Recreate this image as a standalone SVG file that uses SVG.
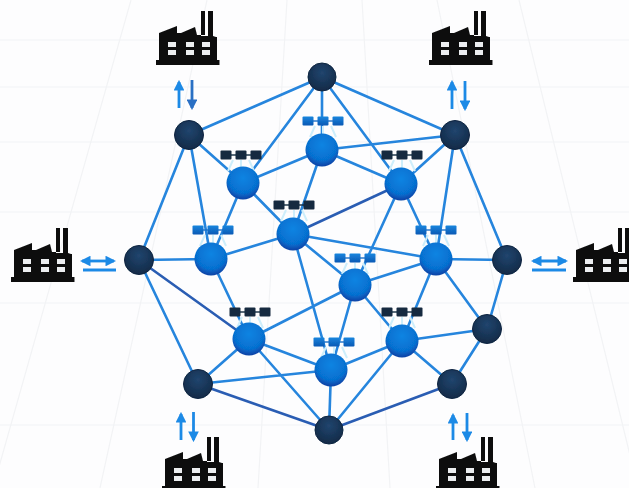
<svg xmlns="http://www.w3.org/2000/svg" xmlns:xlink="http://www.w3.org/1999/xlink" width="629" height="488" viewBox="0 0 629 488">
<style>
.grid{stroke:#f2f3f5;stroke-width:1.2;fill:none}
.e{stroke:#2585dd;stroke-width:2.6;fill:none;stroke-linecap:round}
.d{stroke:#2a5db3;stroke-width:2.6;fill:none;stroke-linecap:round}
.a{stroke:#1f8ae6;stroke-width:2.8;fill:none}
.a2{stroke:#2c6fc4;stroke-width:2.8;fill:none}
.dark{fill:url(#gd);stroke:#0f2440;stroke-width:1}
.blue{fill:url(#gb)}
.f{fill:#0e0f10}
.w{fill:#eceef0}
.p{stroke:#cdeefb;stroke-width:2;fill:none}
.cb{fill:url(#cb)}
.cd{fill:#14293f}
.lb{stroke:#1d72c8;stroke-width:1.4}
.ld{stroke:#14293f;stroke-width:1.4}
</style>
<defs>
<filter id="soft" x="-5%" y="-5%" width="110%" height="110%"><feGaussianBlur stdDeviation="0.6"/></filter>
<radialGradient id="gb" cx="50%" cy="35%" r="65%"><stop offset="0" stop-color="#0a84e2"/><stop offset="0.7" stop-color="#0670d0"/><stop offset="1" stop-color="#0a40a4"/></radialGradient>
<radialGradient id="gd" cx="50%" cy="35%" r="65%"><stop offset="0" stop-color="#21456e"/><stop offset="1" stop-color="#122a47"/></radialGradient>
<linearGradient id="cb" x1="0" y1="0" x2="0" y2="1"><stop offset="0" stop-color="#1a86de"/><stop offset="1" stop-color="#0a58b4"/></linearGradient>
<marker id="ah" viewBox="0 0 10 10" refX="8" refY="5" markerWidth="3.800" markerHeight="3.800" orient="auto-start-reverse"><path d="M0 0L10 5L0 10Z" fill="#1f8ae6"/></marker>
<marker id="ah2" viewBox="0 0 10 10" refX="8" refY="5" markerWidth="3.800" markerHeight="3.800" orient="auto-start-reverse"><path d="M0 0L10 5L0 10Z" fill="#2c6fc4"/></marker>
<symbol id="factory" width="64" height="56" viewBox="0 0 64 56" overflow="visible">
<path class="f" d="M45 1h4v24h-4zM52 1h5v25h-5zM3 23L21 16V23H25L39 17L41 25H45V26H57L60 27H61V50H63.500V55H0V50H3Z"/>
<path class="w" d="M12 32h8v5h-8zM30 32h8v5h-8zM46 32h8v5h-8zM12 40h8v5h-8zM30 40h8v5h-8zM46 40h8v5h-8z"/>
</symbol>
<g id="chipB"><path class="p" d="M-8 5L-13 16M0 5V15M8 5L13 16"/><path class="lb" d="M-15 0H15"/><rect class="cb" x="-20.500" y="-4.500" width="11" height="9" rx="1"/><rect class="cb" x="-5.500" y="-4.500" width="11" height="9" rx="1"/><rect class="cb" x="9.500" y="-4.500" width="11" height="9" rx="1"/></g>
<g id="chipD"><path class="p" d="M-8 5L-13 16M0 5V15M8 5L13 16"/><path class="ld" d="M-15 0H15"/><rect class="cd" x="-20.500" y="-4.500" width="11" height="9" rx="1"/><rect class="cd" x="-5.500" y="-4.500" width="11" height="9" rx="1"/><rect class="cd" x="9.500" y="-4.500" width="11" height="9" rx="1"/></g>
</defs>
<rect width="629" height="488" fill="#fdfdfe"/>
<g id="grid" class="grid">
<path d="M0 40H629M0 87H629M0 142H629M0 212H629M0 303H629M0 425H629"/>
<path d="M207 0L100 488M131 0L-7 488M287 0L258 488M362 0L390 488M437 0L535 488M519 0L638 488"/>
</g>
<g filter="url(#soft)">
<g id="connectors">
<path class="e" d="M322 77L189 135M322 77L455 135M322 77V150M322 77L243 183M322 77L401 184M189 135L243 183M189 135L211 259M189 135L139 260M455 135L322 150M455 135L401 184M455 135L436 259M455 135L507 260M322 150L243 183M322 150L401 184M322 150L293 234M243 183L211 259M243 183L293 234M401 184L436 259M401 184L355 285M293 234L211 259M293 234L436 259M293 234L355 285M293 234L331 370M211 259L139 260M211 259L249 339M436 259L507 260M436 259L355 285M436 259L402 341M436 259L487 329M355 285L249 339M355 285L331 370M355 285L402 341M249 339L198 384M249 339L331 370M249 339L329 430M402 341L331 370M402 341L487 329M402 341L452 384M402 341L329 430M331 370L198 384M331 370L329 430M507 260L487 329M487 329L452 384M139 260L198 384"/>
<path class="d" d="M401 184L293 234M139 260L249 339M198 384L329 430M452 384L329 430"/>
</g>
<g id="arrows">
<path class="a" d="M179 108V82" marker-end="url(#ah)"/><path class="a2" d="M192 80V108" marker-end="url(#ah2)"/>
<path class="a" d="M452 109V82" marker-end="url(#ah)"/><path class="a" d="M465 81V109" marker-end="url(#ah)"/>
<path class="a" d="M82 261H114" marker-start="url(#ah)" marker-end="url(#ah)"/><path class="a" d="M83 270H116"/>
<path class="a" d="M533 261H566" marker-start="url(#ah)" marker-end="url(#ah)"/><path class="a" d="M532 270H566"/>
<path class="a" d="M181 440V414" marker-end="url(#ah)"/><path class="a" d="M193.500 412V440" marker-end="url(#ah)"/>
<path class="a" d="M453 440V415" marker-end="url(#ah)"/><path class="a" d="M467 413V440" marker-end="url(#ah)"/>
</g>
<g id="factory-top-left"><use xlink:href="#factory" href="#factory" x="156" y="10"/></g>
<g id="factory-top-right"><use xlink:href="#factory" href="#factory" x="429" y="10"/></g>
<g id="factory-left"><use xlink:href="#factory" href="#factory" x="11" y="227"/></g>
<g id="factory-right"><use xlink:href="#factory" href="#factory" x="573" y="227"/></g>
<g id="factory-bottom-left"><use xlink:href="#factory" href="#factory" x="162" y="436"/></g>
<g id="factory-bottom-right"><use xlink:href="#factory" href="#factory" x="436" y="436"/></g>
<g id="dark-top"><circle class="dark" cx="322" cy="77" r="14"/></g>
<g id="dark-tl"><circle class="dark" cx="189" cy="135" r="14.500"/></g>
<g id="dark-tr"><circle class="dark" cx="455" cy="135" r="14.500"/></g>
<g id="dark-l"><circle class="dark" cx="139" cy="260" r="14.500"/></g>
<g id="dark-r"><circle class="dark" cx="507" cy="260" r="14.500"/></g>
<g id="dark-rl"><circle class="dark" cx="487" cy="329" r="14.500"/></g>
<g id="dark-br"><circle class="dark" cx="452" cy="384" r="14.500"/></g>
<g id="dark-bl"><circle class="dark" cx="198" cy="384" r="14.500"/></g>
<g id="dark-b"><circle class="dark" cx="329" cy="430" r="14"/></g>
<g id="node-a"><use href="#chipB" x="323" y="121"/><circle class="blue" cx="322" cy="150" r="16.500"/></g>
<g id="node-b"><use href="#chipD" x="241" y="155"/><circle class="blue" cx="243" cy="183" r="16.500"/></g>
<g id="node-c"><use href="#chipD" x="402" y="155"/><circle class="blue" cx="401" cy="184" r="16.500"/></g>
<g id="node-d"><use href="#chipD" x="294" y="205"/><circle class="blue" cx="293" cy="234" r="16.500"/></g>
<g id="node-e"><use href="#chipB" x="213" y="230"/><circle class="blue" cx="211" cy="259" r="16.500"/></g>
<g id="node-f"><use href="#chipB" x="436" y="230"/><circle class="blue" cx="436" cy="259" r="16.500"/></g>
<g id="node-g"><use href="#chipB" x="355" y="258"/><circle class="blue" cx="355" cy="285" r="16.500"/></g>
<g id="node-h"><use href="#chipD" x="250" y="312"/><circle class="blue" cx="249" cy="339" r="16.500"/></g>
<g id="node-i"><use href="#chipD" x="402" y="312"/><circle class="blue" cx="402" cy="341" r="16.500"/></g>
<g id="node-j"><use href="#chipB" x="334" y="342"/><circle class="blue" cx="331" cy="370" r="16.500"/></g>
</g>
</svg>
